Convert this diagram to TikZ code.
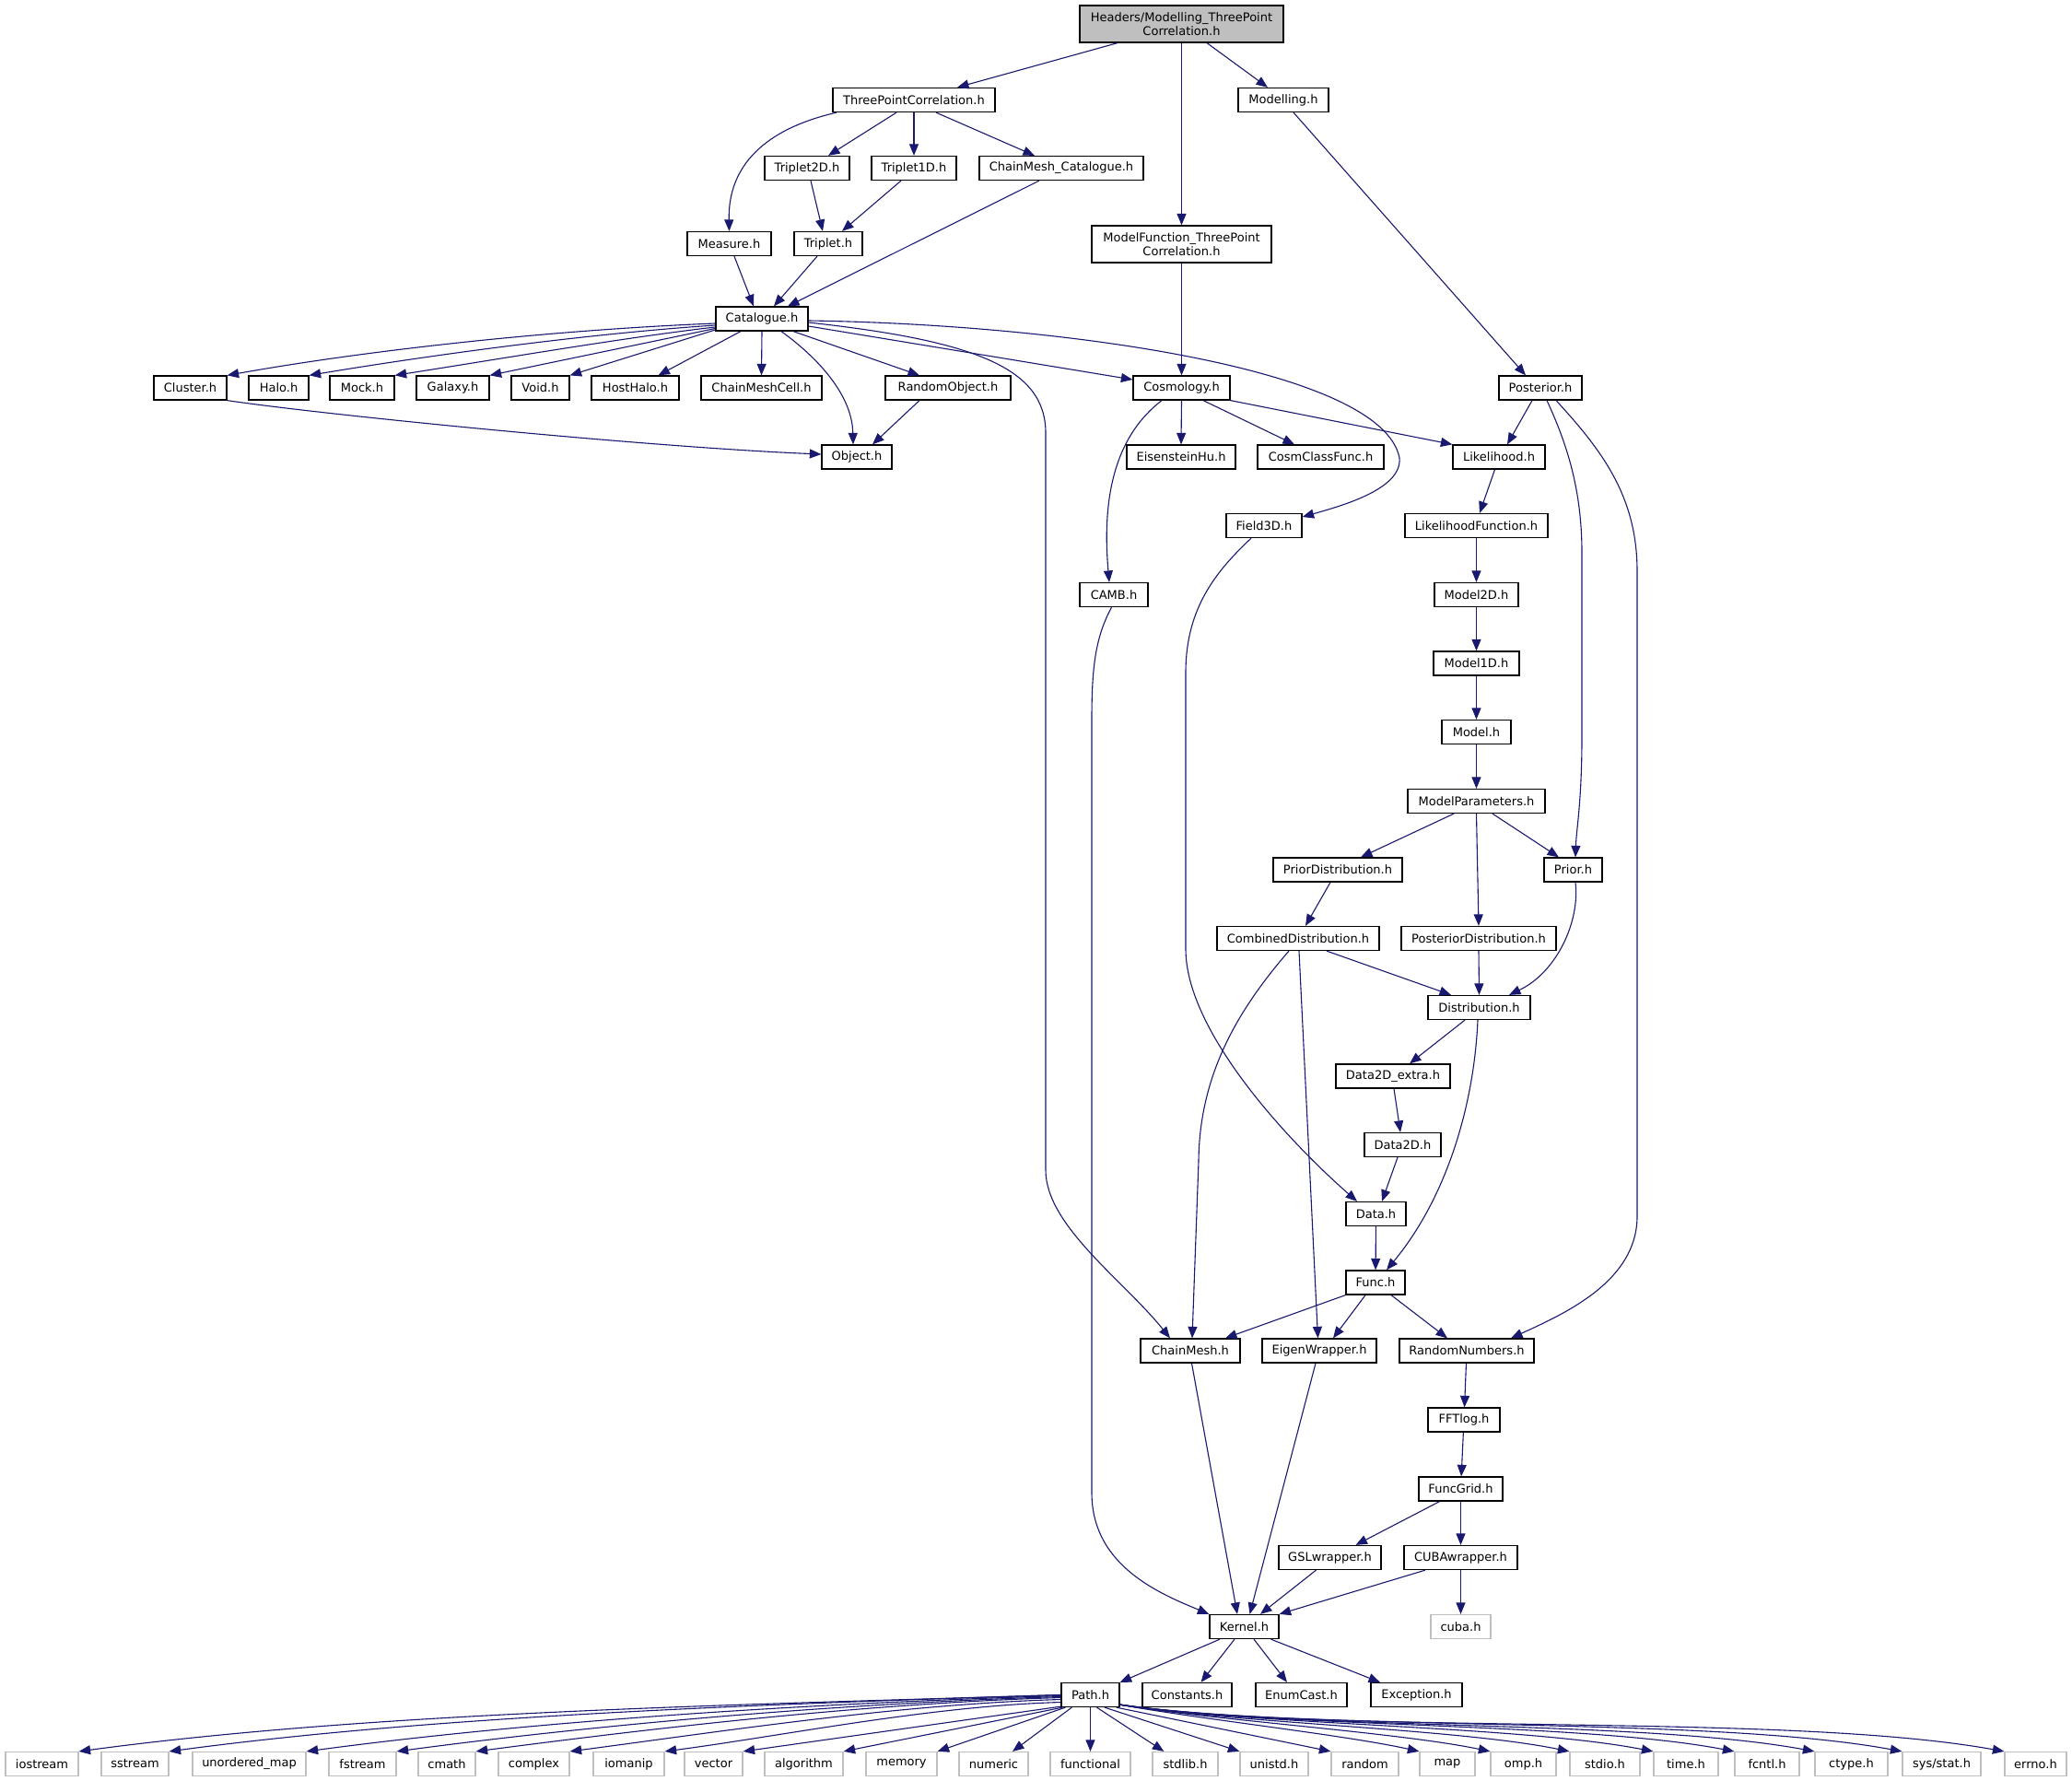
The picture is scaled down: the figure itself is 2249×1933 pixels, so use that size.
\documentclass[tikz,border=0pt]{standalone}
\usepackage{fontspec}
\setmainfont{DejaVu Sans}
\usetikzlibrary{arrows.meta}
\definecolor{edgeblue}{HTML}{191970}
\definecolor{headgray}{HTML}{BFBFBF}
\definecolor{stdgray}{HTML}{BFBFBF}
\newcommand\dxfont{\fontsize{13}{15}\selectfont}
\begin{document}
\begin{tikzpicture}[x=1pt,y=-1pt,
  box/.style={draw=black, line width=1.25pt, inner sep=0pt, minimum height=26pt, font=\dxfont, align=center},
  stdbox/.style={box, draw=stdgray},
  edge/.style={draw=edgeblue, line width=1.1pt, -{Triangle[length=12.5pt,width=10pt]}}]
\useasboundingbox (0,0) rectangle (2249,1933);
\fill[white] (0,0) rectangle (2249,1933);
% nodes
\node[box, fill=headgray, minimum width=221pt, minimum height=40pt] (head) at (1282.5,26) {Headers/Modelling\_ThreePoint\\Correlation.h};
\node[box, minimum width=176pt] (tpc) at (992,108.5) {ThreePointCorrelation.h};
\node[box, minimum width=98pt] (modelling) at (1393,108.5) {Modelling.h};
\node[box, minimum width=92pt] (trip2d) at (876,182.5) {Triplet2D.h};
\node[box, minimum width=92pt] (trip1d) at (992,182.5) {Triplet1D.h};
\node[box, minimum width=178pt] (cmcat) at (1152,182.5) {ChainMesh\_Catalogue.h};
\node[box, minimum width=91pt] (measure) at (791.5,264.5) {Measure.h};
\node[box, minimum width=74pt] (triplet) at (899,264.5) {Triplet.h};
\node[box, minimum width=195pt, minimum height=40pt] (modfunc) at (1282.5,265) {ModelFunction\_ThreePoint\\Correlation.h};
\node[box, minimum width=100pt] (catalogue) at (827,346) {Catalogue.h};
\node[box, minimum width=79pt] (cluster) at (206.5,421) {Cluster.h};
\node[box, minimum width=65pt] (halo) at (302.5,421) {Halo.h};
\node[box, minimum width=70pt] (mock) at (393,421) {Mock.h};
\node[box, minimum width=79pt] (galaxy) at (491.5,421) {Galaxy.h};
\node[box, minimum width=63pt] (void) at (586.5,421) {Void.h};
\node[box, minimum width=95pt] (hosthalo) at (689.5,421) {HostHalo.h};
\node[box, minimum width=131pt] (chainmeshcell) at (826.5,421) {ChainMeshCell.h};
\node[box, minimum width=136pt] (randomobject) at (1029,421) {RandomObject.h};
\node[box, minimum width=105pt] (cosmology) at (1282.5,421) {Cosmology.h};
\node[box, minimum width=90pt] (posterior) at (1672,421) {Posterior.h};
\node[box, minimum width=76pt] (object) at (930,496) {Object.h};
\node[box, minimum width=118pt] (eisensteinhu) at (1282,496) {EisensteinHu.h};
\node[box, minimum width=137pt] (cosmclass) at (1433.5,496) {CosmClassFunc.h};
\node[box, minimum width=100pt] (likelihood) at (1627,496) {Likelihood.h};
\node[box, minimum width=82pt] (field3d) at (1372,570.5) {Field3D.h};
\node[box, minimum width=155pt] (likefunc) at (1602.5,570.5) {LikelihoodFunction.h};
\node[box, minimum width=74pt] (camb) at (1209,645.5) {CAMB.h};
\node[box, minimum width=91pt] (model2d) at (1602.5,645.5) {Model2D.h};
\node[box, minimum width=93pt] (model1d) at (1602.5,720) {Model1D.h};
\node[box, minimum width=75pt] (model) at (1602.5,794.5) {Model.h};
\node[box, minimum width=149pt] (modelparams) at (1602.5,869.5) {ModelParameters.h};
\node[box, minimum width=140pt] (priordist) at (1452,944) {PriorDistribution.h};
\node[box, minimum width=63pt] (prior) at (1707.5,944) {Prior.h};
\node[box, minimum width=176pt] (combdist) at (1409,1018.5) {CombinedDistribution.h};
\node[box, minimum width=168pt] (postdist) at (1605,1018.5) {PosteriorDistribution.h};
\node[box, minimum width=111pt] (distribution) at (1605.5,1093.5) {Distribution.h};
\node[box, minimum width=124pt] (data2dextra) at (1512,1168) {Data2D\_extra.h};
\node[box, minimum width=83pt] (data2d) at (1522.5,1242.5) {Data2D.h};
\node[box, minimum width=65pt] (data) at (1493.5,1317.5) {Data.h};
\node[box, minimum width=64pt] (func) at (1493,1392) {Func.h};
\node[box, minimum width=108pt] (chainmesh) at (1292,1466) {ChainMesh.h};
\node[box, minimum width=124pt] (eigen) at (1432,1466) {EigenWrapper.h};
\node[box, minimum width=146pt] (randnum) at (1592,1466) {RandomNumbers.h};
\node[box, minimum width=78pt] (fftlog) at (1589,1541) {FFTlog.h};
\node[box, minimum width=91pt] (funcgrid) at (1585.5,1616) {FuncGrid.h};
\node[box, minimum width=111pt] (gsl) at (1443.5,1690.5) {GSLwrapper.h};
\node[box, minimum width=123pt] (cubawrap) at (1585.5,1690.5) {CUBAwrapper.h};
\node[box, minimum width=75pt] (kernel) at (1350.5,1765.5) {Kernel.h};
\node[stdbox, minimum width=65pt] (cuba) at (1585.5,1765.5) {cuba.h};
\node[box, minimum width=63pt] (pathh) at (1183.5,1839.5) {Path.h};
\node[box, minimum width=97pt] (constants) at (1288.5,1839.5) {Constants.h};
\node[box, minimum width=99pt] (enumcast) at (1412.5,1839.5) {EnumCast.h};
\node[box, minimum width=99pt] (exception) at (1537.5,1839.5) {Exception.h};
% std headers
\node[stdbox, minimum width=79pt] (iostream) at (45.5,1914.5) {iostream};
\node[stdbox, minimum width=73pt] (sstream) at (146.5,1914.5) {sstream};
\node[stdbox, minimum width=123pt] (umap) at (270.5,1914.5) {unordered\_map};
\node[stdbox, minimum width=73pt] (fstream) at (393.5,1914.5) {fstream};
\node[stdbox, minimum width=62pt] (cmath) at (485,1914.5) {cmath};
\node[stdbox, minimum width=77pt] (complex) at (579.5,1914.5) {complex};
\node[stdbox, minimum width=77pt] (iomanip) at (682.5,1914.5) {iomanip};
\node[stdbox, minimum width=63pt] (vector) at (774.5,1914.5) {vector};
\node[stdbox, minimum width=85pt] (algorithm) at (872.5,1914.5) {algorithm};
\node[stdbox, minimum width=77pt] (memory) at (978.5,1914.5) {memory};
\node[stdbox, minimum width=75pt] (numeric) at (1078.5,1914.5) {numeric};
\node[stdbox, minimum width=87pt] (functional) at (1183.5,1914.5) {functional};
\node[stdbox, minimum width=71pt] (stdlib) at (1286.5,1914.5) {stdlib.h};
\node[stdbox, minimum width=74pt] (unistd) at (1383,1914.5) {unistd.h};
\node[stdbox, minimum width=73pt] (random) at (1481.5,1914.5) {random};
\node[stdbox, minimum width=60pt] (map) at (1571,1914.5) {map};
\node[stdbox, minimum width=71pt] (omp) at (1653.5,1914.5) {omp.h};
\node[stdbox, minimum width=76pt] (stdio) at (1742,1914.5) {stdio.h};
\node[stdbox, minimum width=70pt] (timeh) at (1830,1914.5) {time.h};
\node[stdbox, minimum width=70pt] (fcntl) at (1918,1914.5) {fcntl.h};
\node[stdbox, minimum width=79pt] (ctype) at (2009.5,1914.5) {ctype.h};
\node[stdbox, minimum width=85pt] (sysstat) at (2107.5,1914.5) {sys/stat.h};
\node[stdbox, minimum width=67pt] (errno) at (2209.5,1914.5) {errno.h};
% edges: top
\draw[edge] ([xshift=-69.5pt]head.south) -- ([xshift=47pt]tpc.north);
\draw[edge] (head.south) -- (modfunc.north);
\draw[edge] ([xshift=27.5pt]head.south) -- ([xshift=-17pt]modelling.north);
\draw[edge] ([xshift=-84pt]tpc.south) .. controls (830,140) and (790,180) .. (measure.north);
\draw[edge] ([xshift=-19pt]tpc.south) -- ([xshift=23pt]trip2d.north);
\draw[edge] (tpc.south) -- (trip1d.north);
\draw[edge] ([xshift=24pt]tpc.south) -- ([xshift=-29pt]cmcat.north);
\draw[edge] ([xshift=4pt]trip2d.south) -- ([xshift=-6pt]triplet.north);
\draw[edge] ([xshift=-14pt]trip1d.south) -- ([xshift=15pt]triplet.north);
\draw[edge] ([xshift=-24pt]cmcat.south) -- ([xshift=28pt]catalogue.north);
\draw[edge] ([xshift=5.5pt]measure.south) -- ([xshift=-9pt]catalogue.north);
\draw[edge] ([xshift=-12pt]triplet.south) -- ([xshift=13pt]catalogue.north);
\draw[edge] ([xshift=11pt]modelling.south) -- ([xshift=-16pt]posterior.north);
\draw[edge] (modfunc.south) -- (cosmology.north);
% catalogue fan
\draw[edge] ([yshift=-5pt]catalogue.west) .. controls (600,358) and (400,380) .. (cluster.north east);
\draw[edge] ([yshift=-7pt]catalogue.west) .. controls (640,362) and (470,385) .. (halo.north east);
\draw[edge] ([yshift=-9pt]catalogue.west) .. controls (680,366) and (540,390) .. (mock.north east);
\draw[edge] ([yshift=-10.5pt]catalogue.west) -- (galaxy.north east);
\draw[edge] ([yshift=-12pt]catalogue.west) -- (void.north east);
\draw[edge] ([xshift=-23pt]catalogue.south) -- ([xshift=25pt]hosthalo.north);
\draw[edge] (catalogue.south) -- (chainmeshcell.north);
\draw[edge] ([xshift=21pt]catalogue.south) .. controls (890,390) and (925,430) .. ([xshift=-4pt]object.north);
\draw[edge] ([xshift=34pt]catalogue.south) -- ([xshift=-31pt]randomobject.north);
\draw[edge] ([yshift=-8pt]catalogue.east) -- ([yshift=9pt]cosmology.west);
\draw[edge] ([yshift=-2pt]catalogue.east) .. controls (1150,352) and (1500,400) .. (1519,497) .. controls (1522,530) and (1460,548) .. ([yshift=9.5pt]field3d.east);
\draw[edge] ([yshift=-4pt]catalogue.east) .. controls (1060,370) and (1135,400) .. (1135,470) -- (1135,1270) .. controls (1135,1330) and (1220,1390) .. ([xshift=-22pt]chainmesh.north);
\draw[edge] (cluster.south east) .. controls (350,450) and (700,485) .. ([yshift=3pt]object.west);
\draw[edge] ([xshift=-31pt]randomobject.south) -- ([xshift=17pt]object.north);
% cosmology
\draw[edge] (cosmology.south) -- (eisensteinhu.north);
\draw[edge] ([xshift=23.5pt]cosmology.south) -- ([xshift=-28.5pt]cosmclass.north);
\draw[edge] (cosmology.south east) -- (likelihood.north west);
\draw[edge] ([xshift=-21.5pt]cosmology.south) .. controls (1215,470) and (1195,530) .. ([xshift=-5pt]camb.north);
% posterior
\draw[edge] ([xshift=-9pt]posterior.south) -- ([xshift=9pt]likelihood.north);
\draw[edge] ([xshift=7pt]posterior.south) .. controls (1700,480) and (1717,530) .. (1717,600) -- (1717,800) .. controls (1717,870) and (1711,900) .. ([xshift=2.5pt]prior.north);
\draw[edge] ([xshift=17pt]posterior.south) .. controls (1740,490) and (1777,540) .. (1777,620) -- (1777,1320) .. controls (1777,1390) and (1700,1425) .. ([xshift=48pt]randnum.north);
% model chain
\draw[edge] ([xshift=-4.5pt]likelihood.south) -- ([xshift=3.5pt]likefunc.north);
\draw[edge] (likefunc) -- (model2d);
\draw[edge] (model2d) -- (model1d);
\draw[edge] (model1d) -- (model);
\draw[edge] (model) -- (modelparams);
\draw[edge] ([xshift=-24.5pt]modelparams.south) -- ([xshift=25pt]priordist.north);
\draw[edge] (modelparams.south) -- (postdist.north);
\draw[edge] ([xshift=17.5pt]modelparams.south) -- ([xshift=-15.5pt]prior.north);
\draw[edge] ([xshift=-8pt]priordist.south) -- ([xshift=8pt]combdist.north);
\draw[edge] (postdist.south) -- (distribution.north);
\draw[edge] ([xshift=2.5pt]prior.south) .. controls (1715,1000) and (1690,1055) .. ([xshift=32.5pt]distribution.north);
\draw[edge] ([xshift=31pt]combdist.south) -- ([xshift=-30.5pt]distribution.north);
\draw[edge] ([xshift=-10pt]combdist.south) .. controls (1340,1100) and (1302,1170) .. (1301,1260) -- ([xshift=2pt]chainmesh.north);
\draw[edge] ([xshift=1pt]combdist.south) -- ([xshift=-1.5pt]eigen.north);
\draw[edge] ([xshift=-15.5pt]distribution.south) -- ([xshift=18pt]data2dextra.north);
\draw[edge] ([xshift=-1.5pt]distribution.south) .. controls (1600,1200) and (1570,1300) .. ([xshift=12pt]func.north);
\draw[edge] ([xshift=1pt]data2dextra.south) -- ([xshift=-2.5pt]data2d.north);
\draw[edge] ([xshift=-5.5pt]data2d.south) -- ([xshift=6.5pt]data.north);
\draw[edge] (data) -- (func);
\draw[edge] ([xshift=-14pt]field3d.south) .. controls (1320,620) and (1287,660) .. (1287,730) -- (1287,1030) .. controls (1287,1120) and (1400,1240) .. ([xshift=-20.5pt]data.north);
% func and below
\draw[edge] (func.south west) -- ([xshift=38pt]chainmesh.north);
\draw[edge] ([xshift=-11pt]func.south) -- ([xshift=15pt]eigen.north);
\draw[edge] ([xshift=17pt]func.south) -- ([xshift=-21pt]randnum.north);
\draw[edge] ([xshift=1.5pt]chainmesh.south) -- ([xshift=-7.5pt]kernel.north);
\draw[edge] ([xshift=-4pt]eigen.south) -- ([xshift=6pt]kernel.north);
\draw[edge] (randnum) -- (fftlog);
\draw[edge] (fftlog) -- (funcgrid);
\draw[edge] ([xshift=-23pt]funcgrid.south) -- ([xshift=28pt]gsl.north);
\draw[edge] (funcgrid) -- (cubawrap);
\draw[edge] ([xshift=-15pt]gsl.south) -- ([xshift=17.5pt]kernel.north);
\draw[edge] ([xshift=-38.5pt]cubawrap.south) -- (kernel.north east);
\draw[edge] (cubawrap) -- (cuba);
\draw[edge] ([xshift=-2.5pt]camb.south) .. controls (1190,690) and (1185,720) .. (1185,780) -- (1185,1620) .. controls (1185,1700) and (1260,1730) .. (kernel.north west);
% kernel
\draw[edge] ([xshift=-26.5pt]kernel.south) -- (pathh.north east);
\draw[edge] ([xshift=-10.5pt]kernel.south) -- ([xshift=15pt]constants.north);
\draw[edge] ([xshift=10.5pt]kernel.south) -- ([xshift=-15.5pt]enumcast.north);
\draw[edge] ([xshift=29pt]kernel.south) -- ([xshift=-39.5pt]exception.north);
% path fan left
\draw[edge] (pathh.west) .. controls +(-352,11) and +(320,-43) .. (iostream.north east);
\draw[edge] (pathh.west) .. controls +(-320,10) and +(291,-39) .. (sstream.north east);
\draw[edge] ([yshift=-1pt]pathh.west) .. controls +(-271,8) and +(246,-33) .. (umap.north east);
\draw[edge] ([yshift=-2pt]pathh.west) .. controls +(-238,7) and +(217,-29) .. (fstream.north east);
\draw[edge] ([yshift=-3pt]pathh.west) .. controls +(-210,6) and +(191,-25) .. (cmath.north east);
\draw[edge] ([yshift=-5pt]pathh.west) .. controls +(-176,5) and +(160,-21) .. (complex.north east);
\draw[edge] ([yshift=-8pt]pathh.west) .. controls +(-142,4) and +(129,-17) .. (iomanip.north east);
\draw[edge] ([yshift=1pt]pathh.south west) -- (vector.north east);
\draw[edge] ([xshift=2pt]pathh.south west) -- (algorithm.north east);
\draw[edge] ([xshift=5pt]pathh.south west) -- (memory.north east);
\draw[edge] ([xshift=12pt]pathh.south west) -- ([xshift=20.5pt]numeric.north);
% path fan right
\draw[edge] (pathh.south) -- (functional.north);
\draw[edge] ([xshift=7pt]pathh.south) -- ([xshift=13pt]stdlib.north west);
\draw[edge] ([xshift=15.5pt]pathh.south) -- (unistd.north west);
\draw[edge] ([xshift=-4pt]pathh.south east) -- (random.north west);
\draw[edge] ([yshift=3pt]pathh.south east) .. controls +(81,15) and +(-81,-18) .. (map.north west);
\draw[edge] ([yshift=3pt]pathh.south east) .. controls +(101,17) and +(-101,-21) .. (omp.north west);
\draw[edge] ([yshift=3pt]pathh.south east) .. controls +(122,20) and +(-122,-25) .. (stdio.north west);
\draw[edge] ([yshift=3pt]pathh.south east) .. controls +(145,22) and +(-145,-28) .. (timeh.north west);
\draw[edge] ([yshift=3pt]pathh.south east) .. controls +(167,25) and +(-167,-32) .. (fcntl.north west);
\draw[edge] ([yshift=3pt]pathh.south east) .. controls +(189,28) and +(-189,-35) .. (ctype.north west);
\draw[edge] ([yshift=3pt]pathh.south east) .. controls +(212,30) and +(-212,-39) .. (sysstat.north west);
\draw[edge] ([yshift=3pt]pathh.south east) .. controls +(240,34) and +(-240,-43) .. (errno.north west);
\end{tikzpicture}
\end{document}
